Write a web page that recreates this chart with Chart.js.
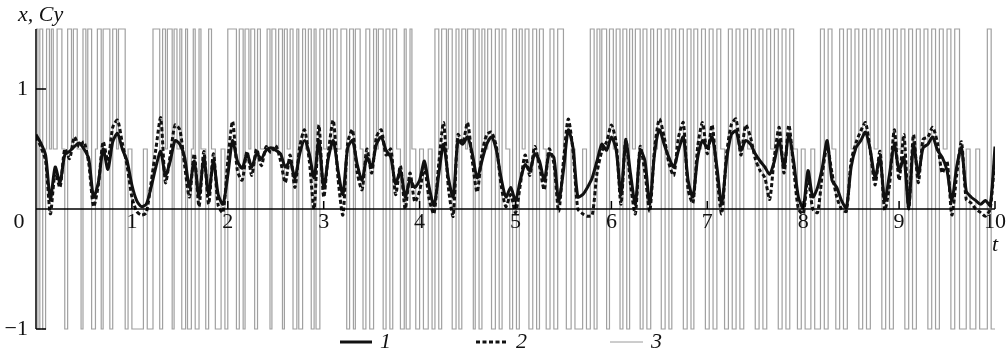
<!DOCTYPE html>
<html>
<head>
<meta charset="utf-8">
<script src="https://cdn.jsdelivr.net/npm/chart.js@4.4.1/dist/chart.umd.min.js"></script>
<style>
  html, body { margin: 0; padding: 0; background: #fff; }
  canvas { display: block; }
</style>
</head>
<body>
<canvas id="chart" width="1006" height="356"></canvas>
<script>
// time step of curves 1 and 2 (t from 0 to 10)
const tStep = 0.05;

// curve 1 (solid), every 0.05
const curve1 = [
  0.62, 0.55, 0.45, 0.08, 0.35, 0.22, 0.45, 0.48, 0.52, 0.55,
  0.50, 0.42, 0.10, 0.22, 0.50, 0.33, 0.56, 0.63, 0.50, 0.40,
  0.20, 0.07, 0.02, 0.04, 0.18, 0.35, 0.48, 0.28, 0.40, 0.57,
  0.54, 0.43, 0.18, 0.40, 0.10, 0.43, 0.12, 0.40, 0.12, 0.04,
  0.28, 0.57, 0.40, 0.34, 0.46, 0.35, 0.46, 0.42, 0.49, 0.51,
  0.49, 0.46, 0.35, 0.40, 0.26, 0.46, 0.57, 0.46, 0.26, 0.57,
  0.18, 0.43, 0.57, 0.32, 0.12, 0.51, 0.57, 0.37, 0.24, 0.43,
  0.35, 0.54, 0.60, 0.49, 0.43, 0.21, 0.32, 0.10, 0.24, 0.18,
  0.24, 0.40, 0.18, 0.03, 0.29, 0.54, 0.26, 0.10, 0.57, 0.54,
  0.60, 0.46, 0.26, 0.40, 0.54, 0.60, 0.49, 0.26, 0.10, 0.18,
  0.07, 0.24, 0.37, 0.32, 0.46, 0.40, 0.24, 0.46, 0.43, 0.07,
  0.32, 0.66, 0.51, 0.10, 0.12, 0.18, 0.26, 0.40, 0.54, 0.49,
  0.60, 0.49, 0.12, 0.57, 0.29, 0.04, 0.49, 0.40, 0.04, 0.46,
  0.66, 0.54, 0.43, 0.35, 0.49, 0.60, 0.24, 0.10, 0.43, 0.57,
  0.51, 0.60, 0.35, 0.04, 0.40, 0.62, 0.65, 0.49, 0.57, 0.54,
  0.46, 0.40, 0.35, 0.29, 0.40, 0.57, 0.35, 0.62, 0.40, 0.10,
  0.01, 0.32, 0.10, 0.18, 0.35, 0.57, 0.24, 0.18, 0.07, 0.01,
  0.35, 0.51, 0.57, 0.64, 0.49, 0.26, 0.43, 0.07, 0.29, 0.54,
  0.32, 0.43, 0.01, 0.54, 0.29, 0.51, 0.54, 0.60, 0.49, 0.43,
  0.32, 0.07, 0.35, 0.51, 0.15, 0.10, 0.07, 0.04, 0.07, 0.03,
  0.52
];

// curve 2 (dashed)
const curve2 = [
  0.60, 0.52, 0.40, -0.04, 0.30, 0.18, 0.50, 0.42, 0.60, 0.52,
  0.56, 0.38, 0.02, 0.20, 0.56, 0.40, 0.68, 0.74, 0.55, 0.36,
  0.10, -0.02, -0.05, -0.03, 0.22, 0.50, 0.76, 0.22, 0.45, 0.70,
  0.66, 0.36, 0.10, 0.46, 0.02, 0.48, 0.04, 0.46, 0.03, -0.03,
  0.40, 0.73, 0.32, 0.24, 0.48, 0.28, 0.50, 0.36, 0.52, 0.47,
  0.53, 0.40, 0.22, 0.45, 0.18, 0.52, 0.66, 0.40, 0.00, 0.70,
  0.10, 0.48, 0.74, 0.25, -0.05, 0.55, 0.66, 0.30, 0.16, 0.50,
  0.30, 0.60, 0.66, 0.45, 0.50, 0.12, 0.36, 0.00, 0.30, 0.06,
  0.15, 0.35, 0.08, -0.04, 0.38, 0.72, 0.18, -0.06, 0.62, 0.55,
  0.72, 0.40, 0.14, 0.46, 0.62, 0.64, 0.52, 0.20, 0.02, 0.12,
  -0.03, 0.20, 0.45, 0.28, 0.52, 0.36, 0.16, 0.50, 0.38, -0.02,
  0.40, 0.75, 0.48, 0.00, -0.04, -0.06, -0.05, 0.30, 0.48, 0.56,
  0.70, 0.55, 0.04, 0.58, 0.20, -0.04, 0.52, 0.30, -0.02, 0.50,
  0.75, 0.60, 0.38, 0.28, 0.60, 0.72, 0.16, 0.05, 0.52, 0.72,
  0.46, 0.70, 0.28, -0.04, 0.45, 0.70, 0.75, 0.45, 0.70, 0.60,
  0.42, 0.32, 0.26, 0.08, 0.44, 0.68, 0.30, 0.70, 0.34, 0.00,
  -0.04, 0.26, 0.00, -0.03, 0.30, 0.52, 0.30, 0.10, 0.00, -0.02,
  0.40, 0.55, 0.65, 0.72, 0.48, 0.20, 0.48, -0.01, 0.20, 0.66,
  0.24, 0.62, 0.00, 0.62, 0.22, 0.58, 0.60, 0.68, 0.55, 0.30,
  0.40, -0.05, 0.28, 0.56, 0.08, 0.05, 0.00, -0.03, -0.06, 0.00,
  0.45
];

// curve 3 (grey switching signal): switch times and the level held from that time
const switchT = [
  0.00, 0.02, 0.04, 0.07, 0.10, 0.11, 0.14, 0.16, 0.18, 0.22,
  0.27, 0.30, 0.33, 0.37, 0.39, 0.43, 0.47, 0.49, 0.52, 0.54,
  0.58, 0.62, 0.64, 0.68, 0.70, 0.77, 0.80, 0.84, 0.86, 0.93,
  0.96, 1.00, 1.12, 1.16, 1.22, 1.29, 1.32, 1.35, 1.37, 1.42,
  1.44, 1.47, 1.50, 1.52, 1.56, 1.58, 1.62, 1.64, 1.66, 1.70,
  1.72, 1.77, 1.80, 1.83, 1.87, 1.93, 1.97, 2.00, 2.09, 2.12,
  2.16, 2.18, 2.22, 2.24, 2.28, 2.31, 2.34, 2.41, 2.44, 2.46,
  2.50, 2.53, 2.57, 2.59, 2.62, 2.65, 2.68, 2.72, 2.74, 2.78,
  2.81, 2.84, 2.87, 2.90, 2.92, 2.96, 3.00, 3.03, 3.07, 3.10,
  3.14, 3.18, 3.24, 3.27, 3.31, 3.33, 3.38, 3.41, 3.44, 3.48,
  3.52, 3.55, 3.57, 3.62, 3.65, 3.69, 3.72, 3.76, 3.80, 3.84,
  3.86, 3.90, 3.92, 3.96, 4.00, 4.04, 4.09, 4.13, 4.16, 4.20,
  4.23, 4.28, 4.30, 4.34, 4.38, 4.41, 4.44, 4.48, 4.50, 4.56,
  4.58, 4.62, 4.65, 4.68, 4.71, 4.75, 4.79, 4.83, 4.86, 4.90,
  4.94, 4.97, 5.01, 5.04, 5.07, 5.10, 5.14, 5.18, 5.22, 5.25,
  5.29, 5.32, 5.36, 5.40, 5.44, 5.50, 5.53, 5.58, 5.62, 5.70,
  5.74, 5.78, 5.82, 5.85, 5.88, 5.90, 5.95, 5.98, 6.02, 6.05,
  6.09, 6.12, 6.16, 6.19, 6.22, 6.25, 6.30, 6.33, 6.37, 6.41,
  6.44, 6.48, 6.52, 6.56, 6.60, 6.63, 6.67, 6.71, 6.75, 6.79,
  6.83, 6.86, 6.90, 6.94, 6.98, 7.02, 7.06, 7.10, 7.14, 7.18,
  7.22, 7.26, 7.30, 7.34, 7.38, 7.42, 7.46, 7.50, 7.54, 7.58,
  7.62, 7.66, 7.70, 7.74, 7.78, 7.82, 7.86, 7.90, 7.94, 7.98,
  8.02, 8.08, 8.12, 8.18, 8.22, 8.26, 8.30, 8.34, 8.38, 8.42,
  8.46, 8.50, 8.54, 8.58, 8.62, 8.66, 8.70, 8.74, 8.78, 8.82,
  8.86, 8.90, 8.94, 8.98, 9.02, 9.06, 9.10, 9.14, 9.18, 9.22,
  9.26, 9.30, 9.34, 9.38, 9.42, 9.46, 9.50, 9.54, 9.58, 9.63,
  9.70, 9.74, 9.80, 9.84, 9.92, 9.96, 10.00
];
const switchLevel = [
  1.5, -1, 1.5, -1, 0.5, 1.5, 0.5, 1.5, 0.5, 1.5,
  0.5, -1, 1.5, 0.5, 1.5, 0.5, -1, 1.5, 0.5, 1.5,
  -1, 0.5, 1.5, -1, 1.5, -1, 1.5, 0.5, 1.5, -1,
  0.5, -1, 0.5, -1, 1.5, -1, 1.5, 0.5, 1.5, -1,
  1.5, 0.5, 1.5, -1, 1.5, -1, 0.5, 1.5, -1, 1.5,
  0.5, -1, 1.5, 0.5, -1, 0.5, -1, 1.5, -1, 1.5,
  -1, 1.5, 0.5, 1.5, -1, 1.5, 0.5, 1.5, -1, 1.5,
  0.5, 1.5, -1, 1.5, 0.5, 1.5, -1, 1.5, -1, 1.5,
  0.5, 1.5, -1, 1.5, -1, 1.5, 0.5, 1.5, 0.5, 1.5,
  0.5, 1.5, -1, 1.5, -1, 1.5, 0.5, -1, 1.5, -1,
  1.5, 0.5, 1.5, -1, 1.5, -1, 1.5, 0.5, -1, 1.5,
  -1, 1.5, 0.5, -1, 0.5, -1, 0.5, -1, 1.5, -1,
  1.5, 0.5, 1.5, -1, 1.5, -1, 1.5, 0.5, 1.5, -1,
  1.5, -1, 1.5, 0.5, 1.5, -1, 1.5, -1, 1.5, 0.5,
  -1, 1.5, -1, 1.5, 0.5, 1.5, -1, 1.5, -1, 1.5,
  0.5, -1, 1.5, -1, 1.5, 0.5, -1, 0.5, -1, 0.5,
  -1, 1.5, -1, 1.5, 0.5, 1.5, -1, 1.5, 0.5, 1.5,
  -1, 1.5, -1, 1.5, 0.5, 1.5, -1, 1.5, -1, 1.5,
  0.5, 1.5, -1, 1.5, -1, 1.5, 0.5, 1.5, -1, 1.5,
  -1, 1.5, 0.5, 1.5, -1, 1.5, -1, 1.5, 0.5, -1,
  1.5, -1, 1.5, -1, 1.5, 0.5, 1.5, -1, 1.5, -1,
  1.5, 0.5, 1.5, -1, 1.5, -1, 1.5, 0.5, -1, 0.5,
  -1, 0.5, -1, 1.5, -1, 1.5, 0.5, -1, 1.5, -1,
  1.5, 0.5, 1.5, -1, 1.5, -1, 1.5, 0.5, 1.5, -1,
  1.5, -1, 1.5, 0.5, 1.5, -1, 1.5, -1, 1.5, 0.5,
  1.5, -1, 1.5, -1, 1.5, 0.5, 1.5, -1, 1.5, -1,
  0.5, -1, 0.5, -1, 1.5, -1, -1
];

const xTicks = [0, 1, 2, 3, 4, 5, 6, 7, 8, 9, 10];
const yTicks = [1, -1];
const legendLabels = ["1", "2", "3"];

const serif = '"Liberation Serif", "Times New Roman", serif';

const toPoints = arr => arr.map((v, i) => ({ x: +(i * tStep).toFixed(2), y: v }));
const greyPoints = switchT.map((t, i) => ({ x: t, y: switchLevel[i] }));

// axes, ticks, labels and legend drawn by hand on top
const axesPlugin = {
  id: 'axes',
  afterDatasetsDraw(chart) {
    const { ctx, scales: { x, y } } = chart;
    const x0 = x.getPixelForValue(0);
    const y0 = y.getPixelForValue(0);
    ctx.save();
    ctx.strokeStyle = '#000';
    ctx.lineWidth = 1.5;
    ctx.beginPath();
    ctx.moveTo(x0, y0);
    ctx.lineTo(x.getPixelForValue(10), y0);
    ctx.moveTo(x0, y.getPixelForValue(1.5));
    ctx.lineTo(x0, y.getPixelForValue(-1));
    xTicks.slice(1).forEach(t => {
      const px = x.getPixelForValue(t);
      ctx.moveTo(px, y0);
      ctx.lineTo(px, y0 - 8);
    });
    yTicks.forEach(v => {
      const py = y.getPixelForValue(v);
      ctx.moveTo(x0, py);
      ctx.lineTo(x0 + 10, py);
    });
    ctx.stroke();

    ctx.fillStyle = '#111';
    ctx.font = '22px ' + serif;
    ctx.textBaseline = 'middle';
    ctx.textAlign = 'center';
    xTicks.forEach(t => {
      const px = t === 0 ? x0 - 17 : x.getPixelForValue(t);
      ctx.fillText(String(t), px, y0 + 13);
    });
    ctx.textAlign = 'right';
    yTicks.forEach(v => {
      ctx.fillText(v < 0 ? '\u2212' + Math.abs(v) : String(v), x0 - 8, y.getPixelForValue(v));
    });

    ctx.font = 'italic 22px ' + serif;
    ctx.textAlign = 'left';
    ctx.fillText('x, Cy', 18, 15);
    ctx.fillText('t', x.getPixelForValue(10) - 3, y0 + 36);

    // legend
    const ly = 342;
    const items = [
      { x1: 340, x2: 372, dash: [], w: 3, c: '#111' },
      { x1: 476, x2: 508, dash: [4, 2.5], w: 3, c: '#111' },
      { x1: 610, x2: 643, dash: [], w: 1, c: '#9a9a9a' }
    ];
    items.forEach((it, i) => {
      ctx.strokeStyle = it.c;
      ctx.lineWidth = it.w;
      ctx.setLineDash(it.dash);
      ctx.beginPath();
      ctx.moveTo(it.x1, ly);
      ctx.lineTo(it.x2, ly);
      ctx.stroke();
      ctx.setLineDash([]);
      ctx.fillStyle = '#111';
      ctx.fillText(legendLabels[i], it.x2 + 8, ly);
    });
    ctx.restore();
  }
};

new Chart(document.getElementById('chart').getContext('2d'), {
  type: 'line',
  data: {
    datasets: [
      {
        label: '1',
        data: toPoints(curve1),
        borderColor: '#111',
        borderWidth: 3,
        pointRadius: 0,
        tension: 0.25,
        order: 2
      },
      {
        label: '2',
        data: toPoints(curve2),
        borderColor: '#111',
        borderWidth: 3,
        borderDash: [4, 2.5],
        pointRadius: 0,
        tension: 0.25,
        order: 1
      },
      {
        label: '3',
        data: greyPoints,
        borderColor: '#a0a0a0',
        borderWidth: 1.2,
        pointRadius: 0,
        stepped: true,
        clip: 4,
        order: 3
      }
    ]
  },
  options: {
    responsive: false,
    animation: false,
    layout: { padding: { left: 36, right: 11, top: 29, bottom: 27 } },
    plugins: { legend: { display: false }, tooltip: { enabled: false } },
    scales: {
      x: { type: 'linear', min: 0, max: 10, display: false },
      y: { min: -1, max: 1.5, display: false }
    }
  },
  plugins: [axesPlugin]
});
</script>
</body>
</html>
